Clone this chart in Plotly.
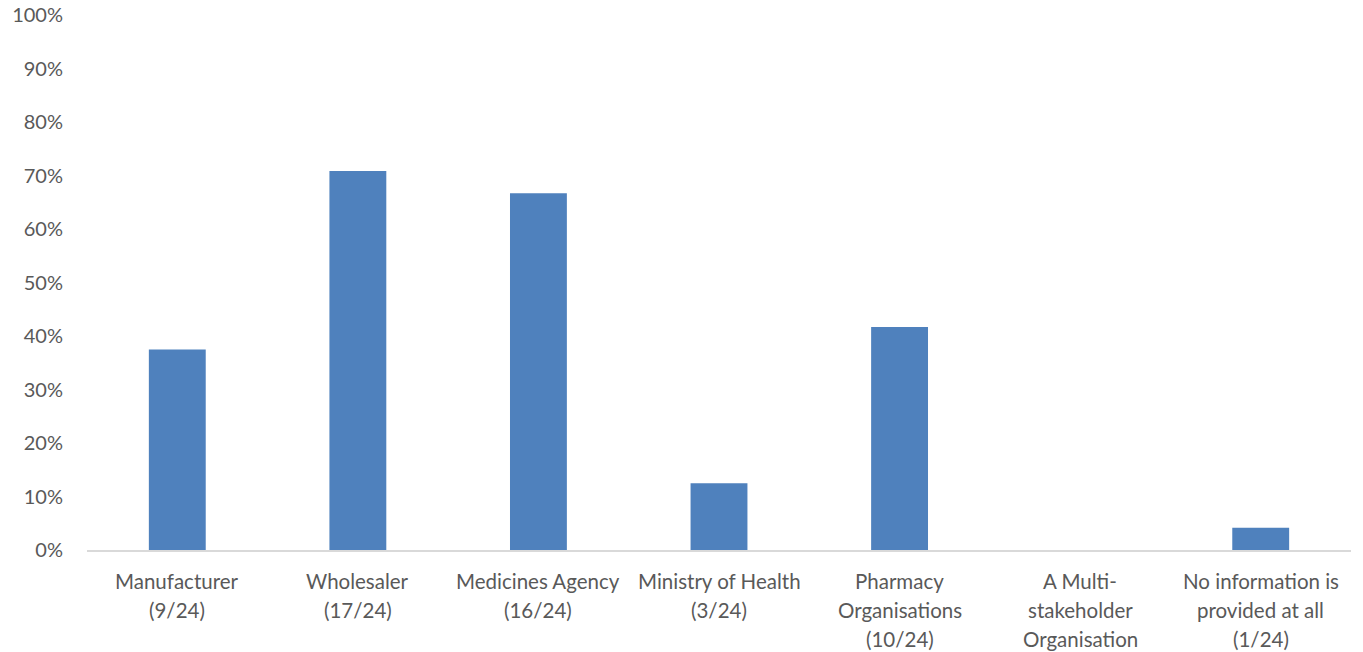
import plotly.graph_objects as go

categories = [
    "Manufacturer<br>(9/24)",
    "Wholesaler<br>(17/24)",
    "Medicines Agency<br>(16/24)",
    "Ministry of Health<br>(3/24)",
    "Pharmacy<br>Organisations<br>(10/24)",
    "A Multi-<br>stakeholder<br>Organisation",
    "No information is<br>provided at all<br>(1/24)",
]
shares = [0.375, 0.7083, 0.6667, 0.125, 0.4167, 0.0, 0.0417]
y_ticks = [0, 0.1, 0.2, 0.3, 0.4, 0.5, 0.6, 0.7, 0.8, 0.9, 1.0]

FONT = "Lato"
GREY = "#595959"

fig = go.Figure(go.Bar(x=categories, y=shares, marker=dict(color="#4f81bd", line=dict(width=0))))

# category labels drawn line by line to reproduce the wider line spacing
annotations = []
for cat in categories:
    for i, line in enumerate(cat.split("<br>")):
        annotations.append(dict(
            x=cat, xref="x", y=0, yref="paper", text=line, showarrow=False,
            xanchor="center", yanchor="middle", yshift=-31 - 29 * i,
            font=dict(family=FONT, size=20.5, color=GREY),
        ))

fig.update_layout(
    width=1363, height=652,
    margin=dict(l=87, r=12, t=15, b=102),
    paper_bgcolor="white", plot_bgcolor="white",
    bargap=0.685,
    showlegend=False,
    font=dict(family=FONT, size=20, color=GREY),
    annotations=annotations,
)
fig.update_yaxes(range=[0, 1], tickvals=y_ticks, tickformat=".0%", showgrid=False,
                 zeroline=False, showline=False, ticks="", ticklabelstandoff=23,
                 automargin=False, ticklabeloverflow="allow")
fig.update_xaxes(showline=True, linecolor="#d9d9d9", linewidth=2, ticks="",
                 showticklabels=False, showgrid=False, automargin=False)

fig.write_html("out.html", config={"displayModeBar": False},
               post_script="document.body.style.margin='0';")
